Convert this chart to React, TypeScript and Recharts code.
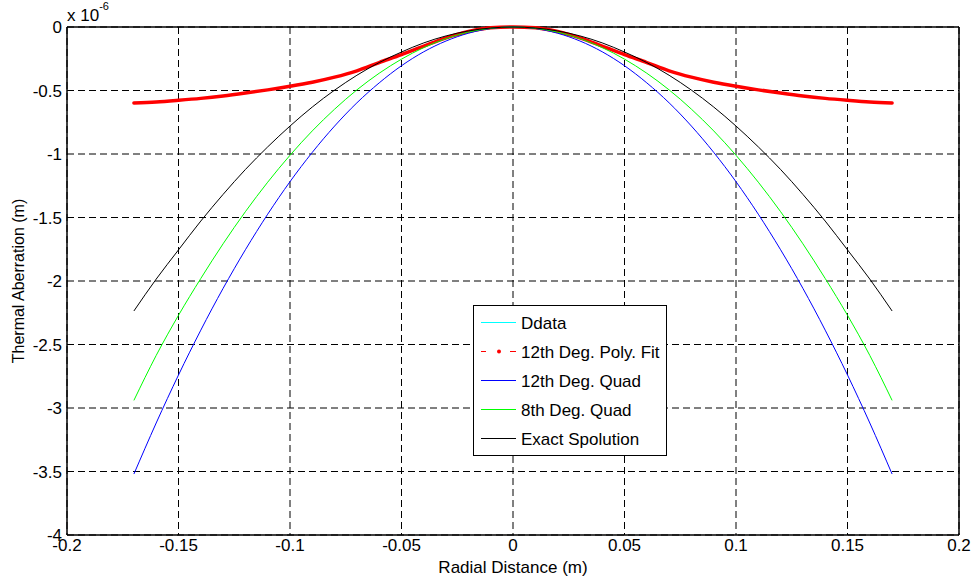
import React from "react";
import {
  LineChart,
  Line,
  XAxis,
  YAxis,
  CartesianGrid,
  ReferenceLine,
} from "recharts";

// radial positions (m)
const radius = [
  -0.17, -0.16, -0.15, -0.14, -0.13, -0.12, -0.11, -0.1, -0.09, -0.08, -0.07, -0.06,
  -0.05, -0.04, -0.03, -0.02, -0.01, 0, 0.01, 0.02, 0.03, 0.04, 0.05, 0.06, 0.07,
  0.08, 0.09, 0.1, 0.11, 0.12, 0.13, 0.14, 0.15, 0.16, 0.17,
];

// thermal aberration, units of 1e-6 m
const polyFit = [
  -0.598, -0.59, -0.577, -0.562, -0.543, -0.52, -0.495, -0.467, -0.435, -0.395, -0.345,
  -0.28, -0.217, -0.15, -0.085, -0.035, -0.005, 0, -0.005, -0.035, -0.085, -0.15, -0.217,
  -0.28, -0.345, -0.395, -0.435, -0.467, -0.495, -0.52, -0.543, -0.562, -0.577, -0.59,
  -0.598,
];
const quad12 = [
  -3.52, -3.118, -2.74, -2.387, -2.058, -1.754, -1.474, -1.218, -0.987, -0.78, -0.597,
  -0.44, -0.305, -0.195, -0.11, -0.049, -0.012, 0, -0.012, -0.049, -0.11, -0.195, -0.305,
  -0.44, -0.597, -0.78, -0.987, -1.218, -1.474, -1.754, -2.058, -2.387, -2.74, -3.118,
  -3.52,
];
const quad8 = [
  -2.94, -2.586, -2.27, -1.98, -1.707, -1.454, -1.222, -1.01, -0.818, -0.647, -0.495,
  -0.364, -0.253, -0.162, -0.091, -0.04, -0.01, 0, -0.01, -0.04, -0.091, -0.162, -0.253,
  -0.364, -0.495, -0.647, -0.818, -1.01, -1.222, -1.454, -1.707, -1.98, -2.27, -2.586,
  -2.94,
];
const exact = [
  -2.236, -1.985, -1.755, -1.528, -1.318, -1.122, -0.944, -0.78, -0.63, -0.497, -0.38,
  -0.28, -0.197, -0.125, -0.07, -0.031, -0.008, 0, -0.008, -0.031, -0.07, -0.125, -0.197,
  -0.28, -0.38, -0.497, -0.63, -0.78, -0.944, -1.122, -1.318, -1.528, -1.755, -1.985,
  -2.236,
];

const xTicks = [-0.2, -0.15, -0.1, -0.05, 0, 0.05, 0.1, 0.15, 0.2];
const yTicks = [0, -0.5, -1, -1.5, -2, -2.5, -3, -3.5, -4];

const legendItems = [
  { name: "Ddata", color: "#00ffff", kind: "line" },
  { name: "12th Deg. Poly. Fit", color: "#ff0000", kind: "dashdot" },
  { name: "12th Deg. Quad", color: "#0000ff", kind: "line" },
  { name: "8th Deg. Quad", color: "#00ff00", kind: "line" },
  { name: "Exact Spolution", color: "#000000", kind: "line" },
];

const data = radius.map((r, i) => ({
  r,
  ddata: polyFit[i],
  poly: polyFit[i],
  quad12: quad12[i],
  quad8: quad8[i],
  exact: exact[i],
}));

const FONT = "'Liberation Sans', Arial, Helvetica, sans-serif";
const FS = 17;

// MATLAB-style boxed legend, placed over the plot
function MatlabLegend() {
  return (
    <svg width={195} height={152} style={{ display: "block" }}>
      <rect x={0.5} y={0.5} width={193} height={150} fill="#fff" stroke="#000" />
      {legendItems.map((it, i) => {
        const y = 17.5 + i * 29;
        return (
          <g key={it.name}>
            {it.kind === "dashdot" ? (
              <g>
                <line x1={8} x2={13} y1={y} y2={y} stroke={it.color} />
                <line x1={37} x2={43} y1={y} y2={y} stroke={it.color} />
                <circle cx={26} cy={y} r={2} fill={it.color} />
              </g>
            ) : (
              <line x1={8} x2={43} y1={y} y2={y} stroke={it.color} strokeWidth={1.2} />
            )}
            <text x={48} y={y + 6} fontSize={FS} fontFamily={FONT} fill="#000">
              {it.name}
            </text>
          </g>
        );
      })}
    </svg>
  );
}

export default function App() {
  return (
    <div style={{ position: "absolute", left: 0, top: 0, width: 975, height: 581, background: "#fff" }}>
      <LineChart
        width={975}
        height={581}
        data={data}
        margin={{ top: 27, right: 16, left: 0, bottom: 0 }}
      >
        <CartesianGrid stroke="#000" strokeDasharray="7 4" strokeWidth={1} />
        <XAxis
          dataKey="r"
          type="number"
          domain={[-0.2, 0.2]}
          ticks={xTicks}
          tickFormatter={(v) => String(v)}
          height={46}
          tickLine={false}
          tickSize={4}
          tickMargin={0}
          axisLine={{ stroke: "#000", strokeWidth: 1.5 }}
          tick={{ fill: "#000", fontSize: FS, fontFamily: FONT }}
          label={(props: any) => {
            const vb = props.viewBox;
            return (
              <text
                x={vb.x + vb.width / 2}
                y={vb.y + 38}
                textAnchor="middle"
                fontSize={FS}
                fontFamily={FONT}
                fill="#000"
              >
                Radial Distance (m)
              </text>
            );
          }}
        />
        <YAxis
          type="number"
          domain={[-4, 0]}
          ticks={yTicks}
          tickFormatter={(v) => String(v)}
          width={67}
          tickLine={false}
          tickSize={4}
          tickMargin={1}
          axisLine={{ stroke: "#000", strokeWidth: 1.5 }}
          tick={{ fill: "#000", fontSize: FS, fontFamily: FONT }}
          label={(props: any) => {
            const vb = props.viewBox;
            const cy = vb.y + vb.height / 2;
            return (
              <g>
                <text
                  x={24}
                  y={cy}
                  transform={`rotate(-90, 24, ${cy})`}
                  textAnchor="middle"
                  fontSize={FS - 1}
                  fontFamily={FONT}
                  fill="#000"
                >
                  Thermal Aberration (m)
                </text>
                <text x={vb.x + vb.width} y={vb.y - 6} fontSize={FS} fontFamily={FONT} fill="#000">
                  x 10
                  <tspan fontSize={11} dy={-11}>
                    -6
                  </tspan>
                </text>
              </g>
            );
          }}
        />
        <ReferenceLine y={0} stroke="#000" strokeWidth={1.5} />
        <ReferenceLine x={0.2} stroke="#000" strokeWidth={1.5} />
        <Line type="monotone" dataKey="ddata" stroke="#00ffff" strokeWidth={1} dot={false} isAnimationActive={false} />
        <Line
          type="monotone"
          dataKey="poly"
          stroke="#ff0000"
          strokeWidth={3.5}
          strokeLinecap="round"
          dot={false}
          isAnimationActive={false}
        />
        <Line type="monotone" dataKey="quad12" stroke="#0000ff" strokeWidth={1} dot={false} isAnimationActive={false} />
        <Line type="monotone" dataKey="quad8" stroke="#00ff00" strokeWidth={1} dot={false} isAnimationActive={false} />
        <Line type="monotone" dataKey="exact" stroke="#000000" strokeWidth={1} dot={false} isAnimationActive={false} />
      </LineChart>
      <div style={{ position: "absolute", left: 473, top: 305 }}>
        <MatlabLegend />
      </div>
    </div>
  );
}
